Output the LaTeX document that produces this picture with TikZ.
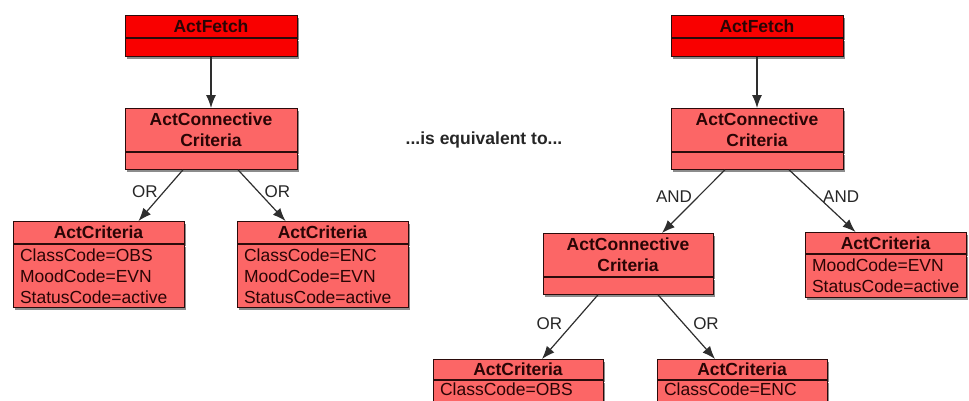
\documentclass[tikz,border=0pt]{standalone}
\usepackage{fontspec}
\setmainfont{Liberation Sans}
\usepackage{xcolor}
\usepackage{tikz}
\usetikzlibrary{positioning, arrows.meta, shadows}

\definecolor{fetchred}{HTML}{F90000}
\definecolor{critred}{HTML}{FC6666}
\definecolor{boxline}{HTML}{2B0B0B}
\definecolor{boxtext}{HTML}{2A0505}
\definecolor{arrowgray}{HTML}{2E2E2E}

\tikzset{
	cls/.style={draw=boxline, fill=critred, line width=0.9pt, inner sep=0pt, minimum width=172pt, text=boxtext, align=center, font=\fontsize{17.5}{21}\selectfont\bfseries, drop shadow={shadow xshift=2pt, shadow yshift=-3pt, opacity=0.45, fill=black}},
	fetch/.style={cls, fill=fetchred},
	attrs/.style={cls, minimum width=0pt, align=left, text width=#1, inner xsep=7pt, font=\fontsize{17.5}{21}\selectfont},
	rel/.style={draw=arrowgray, line width=1.2pt, -{Latex[length=13pt, width=10pt]}},
	op/.style={inner sep=1pt, text=black!85, font=\fontsize{17}{20}\selectfont},
	note/.style={text=black!85, font=\fontsize{17.5}{21}\selectfont\bfseries}
}

\begin{document}
\begin{tikzpicture}[x=1pt, y=-1pt]
	\useasboundingbox (0,0) rectangle (969,400);
	\clip (0,0) rectangle (969,400);
	
	% Left tree
	\node[fetch, anchor=north, minimum height=22pt] (fetchL) at (211,15) {ActFetch};
	\node[fetch, below=0pt of fetchL, minimum height=18pt] (fetchLb) {};
	\node[cls, anchor=north, minimum height=43pt] (connL) at (211,108) {ActConnective\\Criteria};
	\node[cls, below=0pt of connL, minimum height=17pt] (connLb) {};
	\node[cls, anchor=north, minimum width=171pt, minimum height=22pt] (critL1) at (98.5,221) {ActCriteria};
	\node[attrs=157pt, below=0pt of critL1, minimum height=63pt] (critL1b) {ClassCode=OBS\\MoodCode=EVN\\StatusCode=active};
	\node[cls, anchor=north, minimum width=171pt, minimum height=22pt] (critL2) at (322.5,221) {ActCriteria};
	\node[attrs=157pt, below=0pt of critL2, minimum height=63pt] (critL2b) {ClassCode=ENC\\MoodCode=EVN\\StatusCode=active};
	
	\draw[rel] (fetchLb.south) -- (connL.north);
	\draw[rel] ([xshift=-28pt]connLb.south) -- node[op, pos=.42, left=5pt] {OR} ([xshift=40pt]critL1.north);
	\draw[rel] ([xshift=27pt]connLb.south) -- node[op, pos=.42, right=5pt] {OR} ([xshift=-37pt]critL2.north);
	
	% Middle text
	\node[note] (equiv) at (484,140) {...is equivalent to...};
	
	% Right tree
	\node[fetch, anchor=north, minimum height=22pt] (fetchR) at (757,15) {ActFetch};
	\node[fetch, below=0pt of fetchR, minimum height=18pt] (fetchRb) {};
	\node[cls, anchor=north, minimum height=43pt] (connR) at (757,108) {ActConnective\\Criteria};
	\node[cls, below=0pt of connR, minimum height=17pt] (connRb) {};
	\node[cls, anchor=north, minimum width=170pt, minimum height=43pt] (connR2) at (628,233) {ActConnective\\Criteria};
	\node[cls, below=0pt of connR2, minimum width=170pt, minimum height=17pt] (connR2b) {};
	\node[cls, anchor=north, minimum width=161pt, minimum height=21pt] (critR) at (885.5,232) {ActCriteria};
	\node[attrs=147pt, below=0pt of critR, minimum height=43pt] (critRb) {MoodCode=EVN\\StatusCode=active};
	\node[cls, anchor=north, minimum width=170pt, minimum height=20pt] (critR1) at (518,359) {ActCriteria};
	\node[attrs=156pt, below=0pt of critR1, text height=15pt, text depth=30pt] (critR1b) {ClassCode=OBS};
	\node[cls, anchor=north, minimum width=170pt, minimum height=20pt] (critR2) at (742,359) {ActCriteria};
	\node[attrs=156pt, below=0pt of critR2, text height=15pt, text depth=30pt] (critR2b) {ClassCode=ENC};
	
	\draw[rel] (fetchRb.south) -- (connR.north);
	\draw[rel] ([xshift=-32pt]connRb.south) -- node[op, pos=.42, left=5pt] {AND} ([xshift=34pt]connR2.north);
	\draw[rel] ([xshift=32pt]connRb.south) -- node[op, pos=.43, right=4pt] {AND} ([xshift=-30pt]critR.north);
	\draw[rel] ([xshift=-30pt]connR2b.south) -- node[op, pos=.45, left=9pt] {OR} ([xshift=24pt]critR1.north);
	\draw[rel] ([xshift=30pt]connR2b.south) -- node[op, pos=.45, right=8pt] {OR} ([xshift=-27pt]critR2.north);
\end{tikzpicture}
\end{document}
